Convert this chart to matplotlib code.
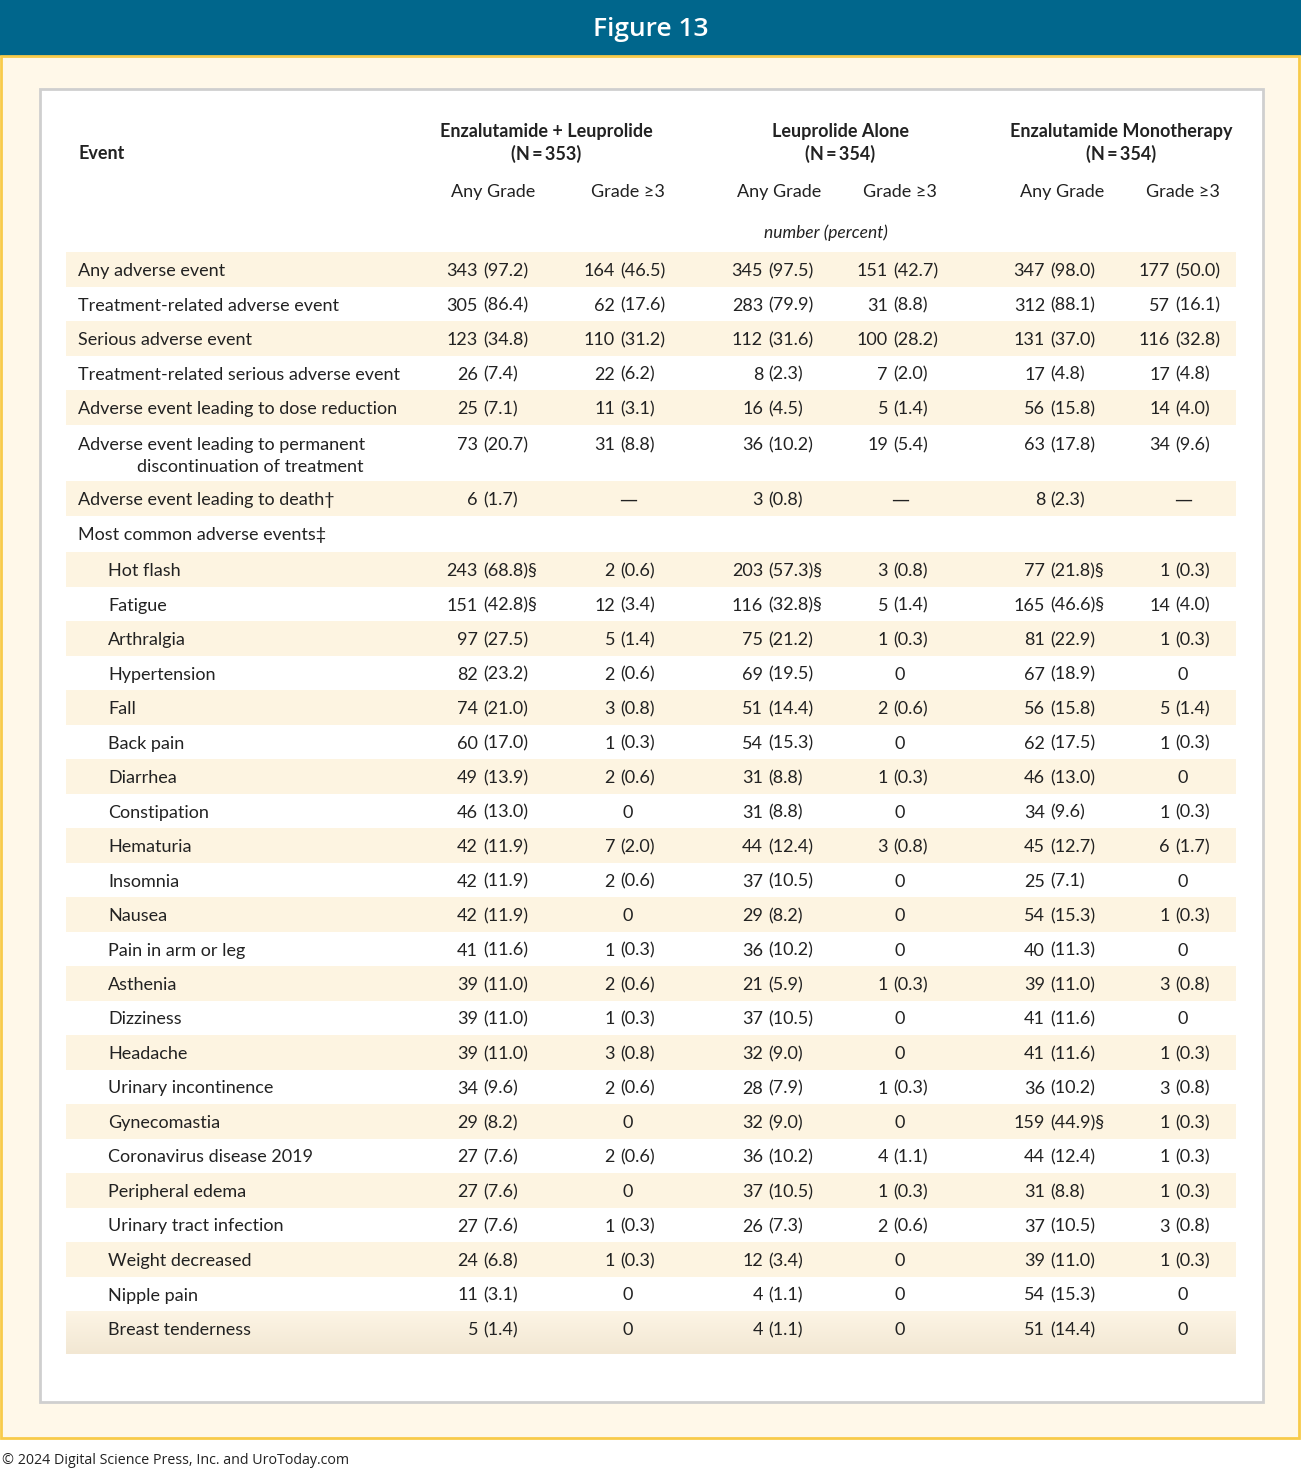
import matplotlib
matplotlib.use("Agg")
import matplotlib.pyplot as plt
import numpy as np
from matplotlib.patches import Rectangle

plt.rcParams['font.family'] = ['Lato', 'DejaVu Sans']

# ---------------- data ----------------
title = "Figure 13"
footer = "© 2024 Digital Science Press, Inc. and UroToday.com"
groups = ["Enzalutamide + Leuprolide\n(N\u2009=\u2009353)", "Leuprolide Alone\n(N\u2009=\u2009354)",
          "Enzalutamide Monotherapy\n(N\u2009=\u2009354)"]
subheads = ["Any Grade", "Grade ≥3"]
units = "number (percent)"

events = [
    "Any adverse event", "Treatment-related adverse event", "Serious adverse event",
    "Treatment-related serious adverse event", "Adverse event leading to dose reduction",
    "Adverse event leading to permanent\ndiscontinuation of treatment",
    "Adverse event leading to death†", "Most common adverse events‡",
    "Hot flash", "Fatigue", "Arthralgia", "Hypertension", "Fall", "Back pain", "Diarrhea",
    "Constipation", "Hematuria", "Insomnia", "Nausea", "Pain in arm or leg", "Asthenia",
    "Dizziness", "Headache", "Urinary incontinence", "Gynecomastia",
    "Coronavirus disease 2019", "Peripheral edema", "Urinary tract infection",
    "Weight decreased", "Nipple pain", "Breast tenderness",
]
indent = [0] * 8 + [1] * 23

el_any = ["343 (97.2)", "305 (86.4)", "123 (34.8)", "26 (7.4)", "25 (7.1)", "73 (20.7)",
          "6 (1.7)", "", "243 (68.8)§", "151 (42.8)§", "97 (27.5)", "82 (23.2)", "74 (21.0)",
          "60 (17.0)", "49 (13.9)", "46 (13.0)", "42 (11.9)", "42 (11.9)", "42 (11.9)",
          "41 (11.6)", "39 (11.0)", "39 (11.0)", "39 (11.0)", "34 (9.6)", "29 (8.2)",
          "27 (7.6)", "27 (7.6)", "27 (7.6)", "24 (6.8)", "11 (3.1)", "5 (1.4)"]
el_g3 = ["164 (46.5)", "62 (17.6)", "110 (31.2)", "22 (6.2)", "11 (3.1)", "31 (8.8)",
         "—", "", "2 (0.6)", "12 (3.4)", "5 (1.4)", "2 (0.6)", "3 (0.8)", "1 (0.3)",
         "2 (0.6)", "0", "7 (2.0)", "2 (0.6)", "0", "1 (0.3)", "2 (0.6)", "1 (0.3)",
         "3 (0.8)", "2 (0.6)", "0", "2 (0.6)", "0", "1 (0.3)", "1 (0.3)", "0", "0"]
la_any = ["345 (97.5)", "283 (79.9)", "112 (31.6)", "8 (2.3)", "16 (4.5)", "36 (10.2)",
          "3 (0.8)", "", "203 (57.3)§", "116 (32.8)§", "75 (21.2)", "69 (19.5)", "51 (14.4)",
          "54 (15.3)", "31 (8.8)", "31 (8.8)", "44 (12.4)", "37 (10.5)", "29 (8.2)",
          "36 (10.2)", "21 (5.9)", "37 (10.5)", "32 (9.0)", "28 (7.9)", "32 (9.0)",
          "36 (10.2)", "37 (10.5)", "26 (7.3)", "12 (3.4)", "4 (1.1)", "4 (1.1)"]
la_g3 = ["151 (42.7)", "31 (8.8)", "100 (28.2)", "7 (2.0)", "5 (1.4)", "19 (5.4)",
         "—", "", "3 (0.8)", "5 (1.4)", "1 (0.3)", "0", "2 (0.6)", "0", "1 (0.3)", "0",
         "3 (0.8)", "0", "0", "0", "1 (0.3)", "0", "0", "1 (0.3)", "0", "4 (1.1)",
         "1 (0.3)", "2 (0.6)", "0", "0", "0"]
em_any = ["347 (98.0)", "312 (88.1)", "131 (37.0)", "17 (4.8)", "56 (15.8)", "63 (17.8)",
          "8 (2.3)", "", "77 (21.8)§", "165 (46.6)§", "81 (22.9)", "67 (18.9)", "56 (15.8)",
          "62 (17.5)", "46 (13.0)", "34 (9.6)", "45 (12.7)", "25 (7.1)", "54 (15.3)",
          "40 (11.3)", "39 (11.0)", "41 (11.6)", "41 (11.6)", "36 (10.2)", "159 (44.9)§",
          "44 (12.4)", "31 (8.8)", "37 (10.5)", "39 (11.0)", "54 (15.3)", "51 (14.4)"]
em_g3 = ["177 (50.0)", "57 (16.1)", "116 (32.8)", "17 (4.8)", "14 (4.0)", "34 (9.6)",
         "—", "", "1 (0.3)", "14 (4.0)", "1 (0.3)", "0", "5 (1.4)", "1 (0.3)", "0",
         "1 (0.3)", "6 (1.7)", "0", "1 (0.3)", "0", "3 (0.8)", "0", "1 (0.3)", "3 (0.8)",
         "1 (0.3)", "1 (0.3)", "1 (0.3)", "3 (0.8)", "1 (0.3)", "0", "0"]

columns = [el_any, el_g3, la_any, la_g3, em_any, em_g3]

# ---------------- layout ----------------
W, H = 1301, 1470
fig = plt.figure(figsize=(W / 100, H / 100), dpi=100)
ax = fig.add_axes([0, 0, 1, 1])
ax.set_xlim(0, W)
ax.set_ylim(H, 0)
ax.axis('off')

BLUE = "#00668C"
CREAM = "#FFF8E9"
YELLOW = "#F8CB4A"
SHADE = "#FDF4E1"
TXT = "#222222"

fs = 13.0

# header band
ax.add_patch(Rectangle((0, 0), W, 56, facecolor=BLUE, edgecolor='none'))
ax.text(W / 2, 29, title, color='white', fontsize=19, ha='center', va='center',
        family=['Open Sans', 'DejaVu Sans'], fontweight='semibold')
# cream frame
ax.add_patch(Rectangle((1, 56), W - 3, 1382, facecolor=CREAM, edgecolor=YELLOW, lw=2))
# inner white box
ax.add_patch(Rectangle((40, 89), 1223, 1313, facecolor='white', edgecolor='#CFCFCF', lw=2))

# row geometry
heights = [34.6] * 5 + [56, 35, 36] + [34.5] * 22 + [43]
tops = 252 + np.concatenate([[0], np.cumsum(heights)[:-1]])
centers = tops + 19

row_x0, row_x1 = 66, 1236
for i, (t, h) in enumerate(zip(tops, heights)):
    if i % 2 == 0:
        if i == len(heights) - 1:
            grad = np.linspace(0, 1, 50).reshape(-1, 1)
            c0 = np.array(matplotlib.colors.to_rgb("#FDF5E5"))
            c1 = np.array(matplotlib.colors.to_rgb("#F2E7D3"))
            img = c0 + (c1 - c0) * grad[:, :, None] * np.ones((1, 2, 1))
            ax.imshow(img, extent=(row_x0, row_x1, t + h, t), aspect='auto',
                      interpolation='bilinear', zorder=1)
        else:
            ax.add_patch(Rectangle((row_x0, t), row_x1 - row_x0, h,
                                   facecolor=SHADE, edgecolor='none', zorder=1))

# column headers
ax.text(78, 153, "Event", fontsize=fs, fontweight='bold', ha='left', va='center', color=TXT)
group_x = [546, 840, 1121]
for gx, g in zip(group_x, groups):
    l1, l2 = g.split("\n")
    ax.text(gx, 131, l1, fontsize=fs, fontweight='bold', ha='center', va='center', color=TXT)
    ax.text(gx, 154, l2, fontsize=fs, fontweight='bold', ha='center', va='center', color=TXT)

col_center = [493, 628, 779, 900, 1062, 1183]
col_paren = [483, 620, 768, 893, 1050, 1175]
for j, cx in enumerate(col_center):
    ax.text(cx, 192, subheads[j % 2], fontsize=fs, ha='center', va='center', color=TXT)
ax.text(826, 233, units, fontsize=fs - 0.5, style='italic', ha='center', va='center', color=TXT)

# body
for i, ev in enumerate(events):
    y = centers[i]
    if "\n" in ev:
        l1, l2 = ev.split("\n")
        ax.text(78, 445, l1, fontsize=fs, ha='left', va='center', color=TXT, zorder=3)
        ax.text(137, 467, l2, fontsize=fs, ha='left', va='center', color=TXT, zorder=3)
        y = 445
    else:
        ax.text(78 + 30 * indent[i], y, ev, fontsize=fs, ha='left', va='center',
                color=TXT, zorder=3)
    for j, col in enumerate(columns):
        s = col[i]
        if not s:
            continue
        if "(" in s:
            num, rest = s.split(" (", 1)
            ax.text(col_paren[j] - 5, y, num, fontsize=fs, ha='right', va='center',
                    color=TXT, zorder=3)
            ax.text(col_paren[j], y, "(" + rest, fontsize=fs, ha='left', va='center',
                    color=TXT, zorder=3)
        elif s == "—":
            ax.text(col_center[j], y, s, fontsize=fs, ha='center', va='center',
                    color=TXT, zorder=3, family=['DejaVu Sans'])
        else:
            ax.text(col_center[j], y, s, fontsize=fs, ha='center', va='center',
                    color=TXT, zorder=3)

ax.text(2, 1460, footer, fontsize=10.3, ha='left', va='center', color=TXT,
        family=['Open Sans', 'DejaVu Sans'])

fig.savefig("out.png", dpi=100)
